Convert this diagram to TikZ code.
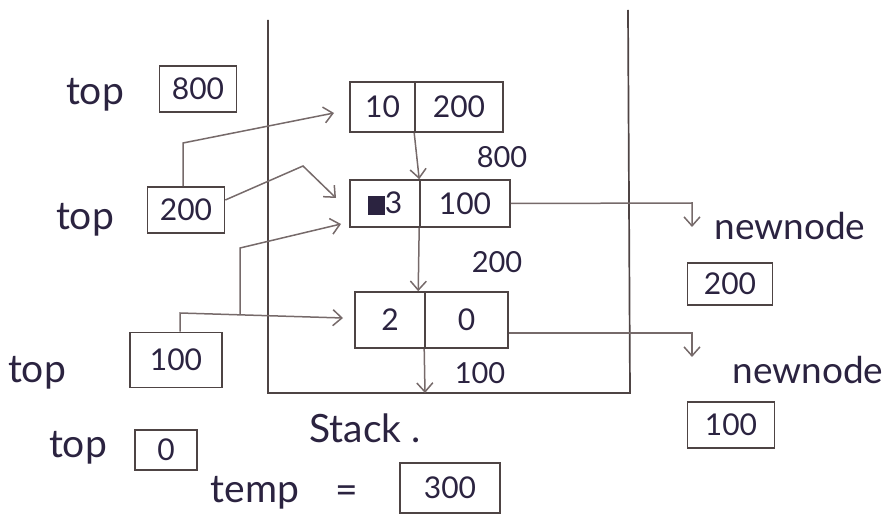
\documentclass[tikz,border=0pt]{standalone}
\usepackage{fontspec}
\setmainfont{Lato}
\usetikzlibrary{arrows.meta}
\definecolor{ink}{HTML}{2B2340}
\definecolor{wire}{HTML}{766A6A}
\definecolor{edge}{HTML}{4E4444}
\tikzset{
  cell/.style={draw=edge, line width=1.6pt, inner sep=0pt, text=ink, font=\fontsize{30}{32}\selectfont},
  valbox/.style={draw=edge, line width=1.6pt, inner sep=0pt, text=ink, font=\fontsize{30}{32}\selectfont},
  word/.style={text=ink, font=\fontsize{39}{42}\selectfont},
  addr/.style={text=ink, font=\fontsize{29}{31}\selectfont},
  link/.style={draw=wire, line width=1.5pt, -{Straight Barb[length=9pt,width=16pt,line width=1.5pt]}},
  wall/.style={draw=edge, line width=1.7pt}
}
\begin{document}
\begin{tikzpicture}[x=1pt,y=-1pt]
\useasboundingbox (0,0) rectangle (884,529);

% stack frame
\coordinate (sTL) at (268,20);
\coordinate (sBL) at (268,393);
\coordinate (sBR) at (630,393);
\coordinate (sTR) at (628,10);
\draw[wall] (sTL) -- (sBL) -- (sBR) -- (sTR);

% linked list nodes inside the stack
\node[cell, minimum width=65pt, minimum height=50pt] (n1a) at (382.5,107) {10};
\node[cell, minimum width=88pt, minimum height=50pt] (n1b) at (459,107) {200};
\node[cell, minimum width=70pt, minimum height=47pt] (n2a) at (385,203.5) {{\color{ink}\rule[-1pt]{17pt}{19pt}}3};
\node[cell, minimum width=90pt, minimum height=47pt] (n2b) at (465,203.5) {100};
\node[cell, minimum width=70pt, minimum height=56pt] (n3a) at (390,320) {2};
\node[cell, minimum width=83pt, minimum height=56pt] (n3b) at (466.5,320) {0};

% next pointers
\coordinate (bot) at (425,393);
\draw[link] (n1b.south west) -- (n2b.north west);
\draw[link] (n2b.south west) -- ([xshift=-6pt]n3b.north west);
\draw[link] (n3b.south west) -- (bot);

\node[addr] (a800) at (502,157) {800};
\node[addr] (a200) at (497,262) {200};
\node[addr] (a100) at (480,373) {100};

% top pointer history
\node[word] (t1) at (95,95) {top};
\node[valbox, minimum width=77pt, minimum height=46pt] (b800) at (198,89) {800};
\node[word] (t2) at (85,220) {top};
\node[valbox, minimum width=77pt, minimum height=46pt] (b200) at (186,210) {200};
\node[word] (t3) at (37,373) {top};
\node[valbox, minimum width=92pt, minimum height=55pt] (b100) at (176,360) {100};
\node[word] (t4) at (78,448) {top};
\node[valbox, minimum width=62pt, minimum height=40pt] (b0) at (166,450) {0};

\coordinate (k1) at (183,143);
\coordinate (tip1) at (334,113);
\coordinate (k2) at (303,166);
\coordinate (tip2) at (336,198);
\coordinate (j3) at (240,315);
\coordinate (k3) at (240,248);
\coordinate (tip3) at (341,224);
\coordinate (k4) at (180,313);
\coordinate (tip4) at (343,318);

\draw[link] ([xshift=-3pt]b200.north) -- (k1) -- (tip1);
\draw[link] ([yshift=10pt]b200.east) -- (k2) -- (tip2);
\draw[link] (j3) -- (k3) -- (tip3);
\draw[link] ([xshift=4pt]b100.north) -- (k4) -- (tip4);

% new nodes leaving the stack
\coordinate (r1) at (692,203);
\coordinate (r1t) at (692,227);
\coordinate (r2) at (692,333);
\coordinate (r2t) at (692,357);
\draw[link] (n2b.east) -- (r1) -- (r1t);
\draw[link] ([yshift=-13pt]n3b.east) -- (r2) -- (r2t);

\node[word, font=\fontsize{37}{40}\selectfont] (nn1) at (790,226) {newnode};
\node[valbox, minimum width=85pt, minimum height=42pt] (nb1) at (730,284) {200};
\node[word, font=\fontsize{37}{40}\selectfont] (nn2) at (808,370) {newnode};
\node[valbox, minimum width=87pt, minimum height=46pt] (nb2) at (731,425) {100};

% captions
\node[word] (stk) at (365,428) {Stack .};
\node[word] (tmp) at (255,493) {temp};
\node[word] (eq) at (347,495) {=};
\node[valbox, minimum width=100pt, minimum height=50pt] (b300) at (450,488) {300};
\end{tikzpicture}
\end{document}
